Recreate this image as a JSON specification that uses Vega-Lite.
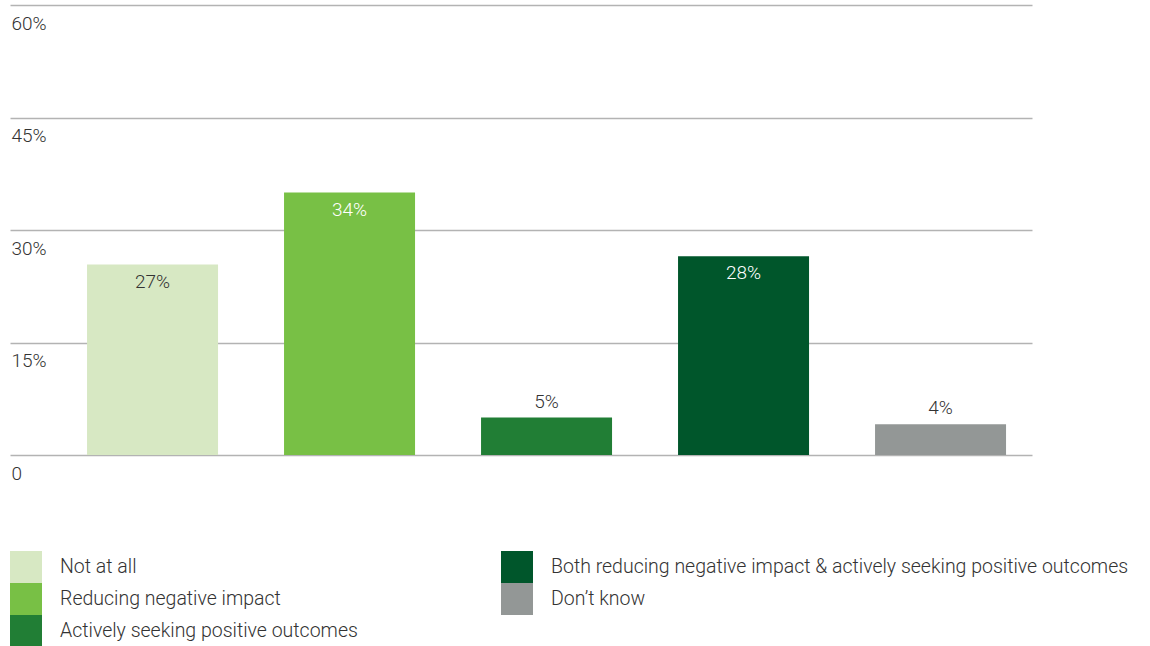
{
  "$schema": "https://vega.github.io/schema/vega-lite/v6.json",
  "width": 1022,
  "height": 450,
  "autosize": "none",
  "padding": {"left": 10, "top": 5, "right": 118, "bottom": 191},
  "config": {
    "view": {"stroke": null},
    "font": "Roboto",
    "text": {"font": "Roboto"}
  },
  "data": {
    "values": [
      {"category": "Not at all", "value": 25.4, "label": "27%"},
      {"category": "Reducing negative impact", "value": 35.0, "label": "34%"},
      {"category": "Actively seeking positive outcomes", "value": 5.0, "label": "5%"},
      {"category": "Both reducing negative impact & actively seeking positive outcomes", "value": 26.5, "label": "28%"},
      {"category": "Don’t know", "value": 4.1, "label": "4%"}
    ]
  },
  "encoding": {
    "x": {
      "field": "category",
      "type": "nominal",
      "sort": null,
      "scale": {"paddingInner": 0.335, "paddingOuter": 0.2614, "align": 0.748},
      "axis": null
    },
    "y": {
      "field": "value",
      "type": "quantitative",
      "scale": {"domain": [0, 60], "nice": false, "zero": true},
      "axis": {
        "title": null,
        "values": [0, 15, 30, 45, 60],
        "labelExpr": "datum.value === 0 ? '0' : datum.value + '%'",
        "ticks": false,
        "domain": false,
        "grid": true,
        "gridColor": "#b3b3b3",
        "gridWidth": 1.5,
        "labelAlign": "left",
        "labelBaseline": "middle",
        "labelPadding": -1,
        "labelOffset": 18,
        "labelFontSize": 19,
        "labelFontWeight": 300,
        "labelFont": "Roboto",
        "labelColor": "#333333"
      }
    }
  },
  "layer": [
    {
      "mark": {"type": "bar"},
      "encoding": {
        "color": {
          "field": "category",
          "type": "nominal",
          "scale": {
            "domain": ["Not at all", "Reducing negative impact", "Actively seeking positive outcomes", "Both reducing negative impact & actively seeking positive outcomes", "Don’t know"],
            "range": ["#d7e8c3", "#78c045", "#217e35", "#00562b", "#939796"]
          },
          "legend": {
            "title": null,
            "orient": "none",
            "legendX": 0,
            "legendY": 546,
            "columns": 2,
            "padding": 0,
            "symbolType": "square",
            "symbolSize": 1024,
            "symbolStrokeWidth": 0,
            "symbolOpacity": 1,
            "labelFontSize": 19.5,
            "labelFont": "Roboto",
            "labelFontWeight": 300,
            "labelColor": "#333333",
            "labelOffset": 18,
            "labelLimit": 0,
            "rowPadding": 0,
            "columnPadding": 143
          }
        }
      }
    },
    {
      "transform": [{"filter": "datum.value > 10"}],
      "mark": {"type": "text", "baseline": "middle", "dy": 17, "fontSize": 19, "fontWeight": 300},
      "encoding": {
        "text": {"field": "label"},
        "color": {
          "condition": {"test": "datum.category !== 'Not at all'", "value": "#ffffff"},
          "value": "#333333"
        }
      }
    },
    {
      "transform": [{"filter": "datum.value <= 10"}],
      "mark": {"type": "text", "baseline": "middle", "dy": -16, "fontSize": 19, "fontWeight": 300, "color": "#333333"},
      "encoding": {
        "text": {"field": "label"}
      }
    }
  ]
}
